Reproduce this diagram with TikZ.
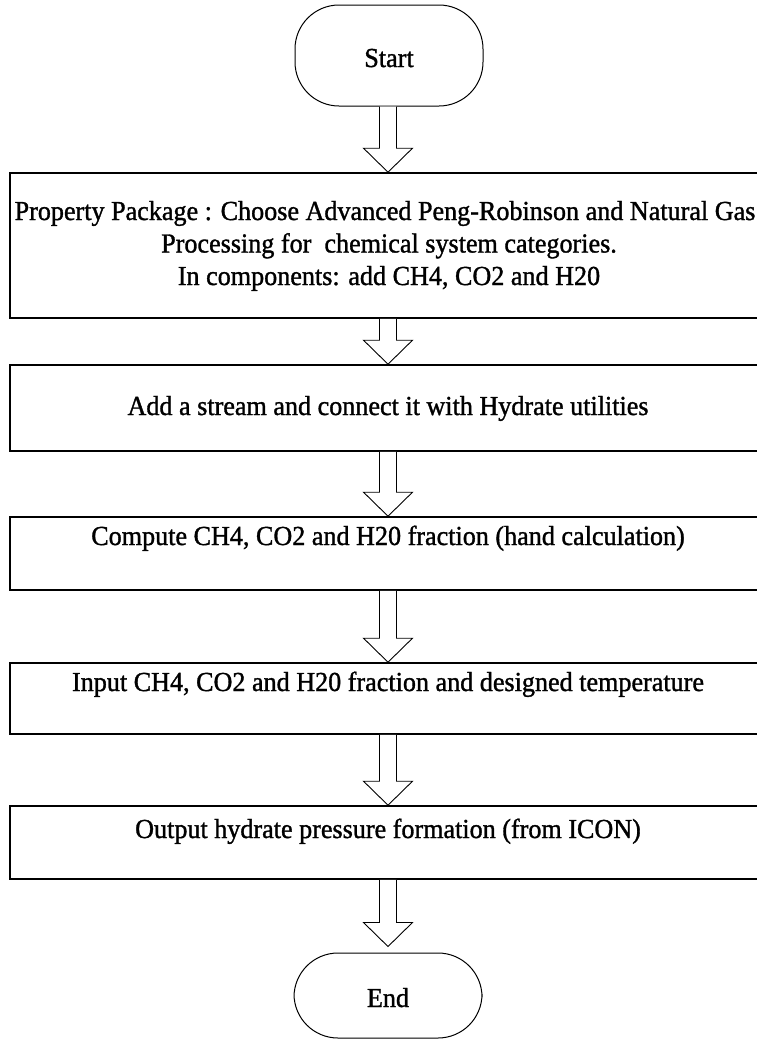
\documentclass[tikz,border=0pt]{standalone}
\usepackage{fontspec}
\setmainfont{Liberation Serif}[FakeStretch=0.95, FakeBold=1.2]
\usetikzlibrary{calc}
\tikzset{
  terminal/.style={draw=black, line width=1pt, fill=white, rounded corners=44pt,
    minimum width=188pt, inner sep=0pt},
  stepbox/.style={draw=black, line width=1.6pt, fill=white, minimum width=756pt, inner sep=0pt},
  txt/.style={font=\fontsize{27.5}{32.5}\selectfont, inner sep=0pt, anchor=base},
  barrow/.style={draw=black, line width=0.9pt, fill=white, line join=miter}
}
\newcommand{\flowarrow}[2]{%
  \draw[barrow] let \p1=(#1), \p2=(#2) in
    (\x2-8.5pt,\y1) -- (\x2-8.5pt,\y2+24pt) -- (\x2-24.5pt,\y2+24pt) -- (\x2,\y2)
    -- (\x2+24.5pt,\y2+24pt) -- (\x2+8.5pt,\y2+24pt) -- (\x2+8.5pt,\y1);}
\begin{document}
\begin{tikzpicture}[x=1pt,y=-1pt]
\useasboundingbox (0,0) rectangle (756,1039);
% shapes
\node[terminal, minimum height=101pt] (start) at (389,55.5) {};
\node[stepbox, minimum height=145pt] (b1) at (388,245.5) {};
\node[stepbox, minimum height=86pt] (b2) at (388,408) {};
\node[stepbox, minimum height=73pt] (b3) at (388,553.5) {};
\node[stepbox, minimum height=71pt] (b4) at (388,698.5) {};
\node[stepbox, minimum height=73pt] (b5) at (388,842.5) {};
\node[terminal, minimum height=85pt] (endn) at (388,995.5) {};
% texts
\node[txt] (tstart) at (389,67) {Start};
\node[txt] (t1a) at (385,220) {Property Package : Choose Advanced Peng-Robinson and Natural Gas};
\node[txt] (t1b) at (389,252.5) {Processing for\ \ chemical system categories.};
\node[txt] (t1c) at (389,285) {In components: add CH4, CO2 and H20};
\node[txt] (t2) at (388,415) {Add a stream and connect it with Hydrate utilities};
\node[txt] (t3) at (388,545) {Compute CH4, CO2 and H20 fraction (hand calculation)};
\node[txt] (t4) at (388,691) {Input CH4, CO2 and H20 fraction and designed temperature};
\node[txt] (t5) at (388,838) {Output hydrate pressure formation (from ICON)};
\node[txt] (tend) at (388,1007) {End};
% connectors
\flowarrow{start.south}{b1.north}
\flowarrow{b1.south}{b2.north}
\flowarrow{b2.south}{b3.north}
\flowarrow{b3.south}{b4.north}
\flowarrow{b4.south}{b5.north}
\flowarrow{b5.south}{[yshift=6pt]endn.north}
\end{tikzpicture}
\end{document}
